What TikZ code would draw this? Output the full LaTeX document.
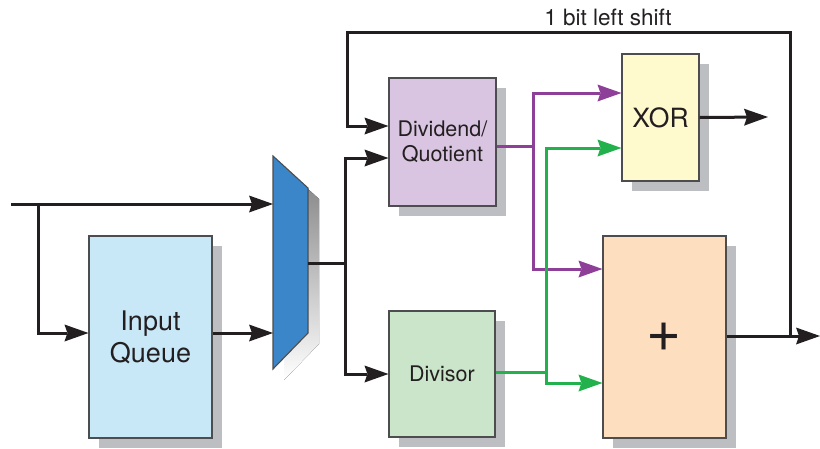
\documentclass[tikz,border=0pt]{standalone}
\usepackage{fontspec}
\setmainfont{TeX Gyre Heros}
\usetikzlibrary{arrows.meta,calc}
\definecolor{ink}{HTML}{231F20}
\definecolor{shade}{HTML}{BDBEC1}
\definecolor{edge}{HTML}{4D4D4F}
\definecolor{iqfill}{HTML}{C8E8F8}
\definecolor{muxfill}{HTML}{3A86C8}
\definecolor{dqfill}{HTML}{D9C5E1}
\definecolor{dvfill}{HTML}{CAE5CA}
\definecolor{xorfill}{HTML}{FFF9CE}
\definecolor{addfill}{HTML}{FDDFBF}
\definecolor{purp}{HTML}{8E3F98}
\definecolor{grn}{HTML}{22B14C}
\tikzset{
  blk/.style={draw=edge, line width=1.1pt, text=ink, align=center, inner sep=0pt,
    preaction={fill=shade, transform canvas={shift={(10pt,-10pt)}}}},
  arrowtip/.style={arrows={-Stealth[length=24pt 0 0,width=17pt 0 0,inset=3pt 0 0,line width=0pt]}},
  wire/.style={draw=ink, line width=3pt},
  arr/.style={wire, arrowtip},
  parr/.style={draw=purp, line width=3pt, arrowtip},
  garr/.style={draw=grn, line width=3pt, arrowtip},
  pwire/.style={draw=purp, line width=3pt},
  gwire/.style={draw=grn, line width=3pt},
  big/.style={font=\fontsize{27}{32}\selectfont},
  mid/.style={font=\fontsize{21.5}{25}\selectfont},
}
\begin{document}
\begin{tikzpicture}[x=1pt,y=-1pt]
\useasboundingbox (0,0) rectangle (820,448);
% boxes
\node[blk, fill=iqfill, minimum width=123pt, minimum height=202pt, big] (iq) at (150.5,337) {Input\\Queue};
\node[blk, fill=dqfill, minimum width=107pt, minimum height=128pt, mid] (dq) at (442.5,142) {Dividend/\\Quotient};
\node[blk, fill=dvfill, minimum width=106pt, minimum height=126pt, mid] (dv) at (442,374) {Divisor};
\node[blk, fill=xorfill, minimum width=77pt, minimum height=127pt, font=\fontsize{26.5}{30}\selectfont] (xor) at (660.5,117.5) {XOR};
\node[blk, fill=addfill, minimum width=123pt, minimum height=202pt, font=\fontsize{60}{60}\selectfont] (add) at (664.5,337) {+};
% mux
\fill[shade] (284,167) -- (319,199) -- (319,344) -- (284,380) -- cycle;
\filldraw[fill=muxfill, draw=edge, line width=1.1pt] (273,156) -- (308,188) -- (308,333) -- (273,369) -- cycle;
\coordinate (muxin1) at (273,204);
\coordinate (muxin2) at (273,333);
\coordinate (muxout) at (308,263);
\coordinate (mj) at (345,263);
% inputs
\coordinate (in) at (11,204);
\coordinate (ib) at (38,204);
\draw[arr] (in) -- (muxin1);
\draw[arr] (ib) |- ([yshift=4pt]iq.west);
\draw[arr] ([yshift=4pt]iq.east) -- (muxin2);
% mux outputs
\draw[wire] (muxout) -- (mj);
\draw[arr] (mj) |- ([yshift=-16pt]dq.west);
\draw[arr] (mj) |- (dv.west);
% feedback loop
\coordinate (tap) at (790,336);
\coordinate (loopR) at (790,32);
\coordinate (loopL) at (347,32);
\draw[arr] (tap) -- (loopR) -- (loopL) |- ([yshift=16pt]dq.west);
\node[font=\fontsize{22.5}{26}\selectfont, text=ink] (lbl) at (608,17) {1 bit left shift};
% outputs
\coordinate (xorout) at (768,117);
\coordinate (addout) at (820,336);
\draw[arr] (xor.east) -- (xorout);
\draw[arr] ([yshift=1pt]add.east) -- (addout);
% purple
\coordinate (pj) at (533,146);
\draw[pwire] ([yshift=-4pt]dq.east) -- (pj);
\draw[parr] (pj) |- ([yshift=24.5pt]xor.west);
\draw[parr] (pj) |- ([yshift=68pt]add.west);
% green
\coordinate (gj) at (546,372);
\draw[gwire] ([yshift=2pt]dv.east) -- (gj);
\draw[garr] (gj) |- ([yshift=-30.5pt]xor.west);
\draw[garr] (gj) |- ([yshift=-46pt]add.west);
\end{tikzpicture}
\end{document}
